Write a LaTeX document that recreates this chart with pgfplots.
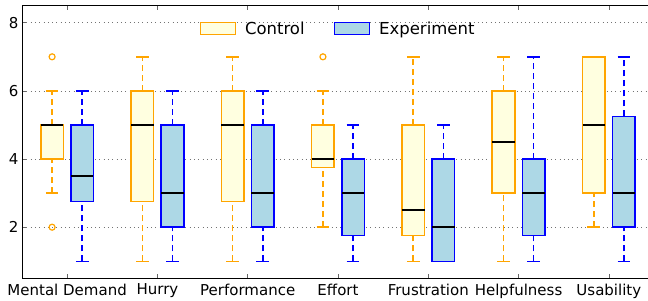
\documentclass[border=0pt]{standalone}
\usepackage{fontspec}
\setmainfont{DejaVu Sans}
\usepackage{pgfplots}
\pgfplotsset{compat=1.18}
\usepgfplotslibrary{statistics}
\definecolor{ctrlfill}{HTML}{FFFFE0}
\definecolor{ctrledge}{HTML}{FFA500}
\definecolor{expfill}{HTML}{ADD8E6}
\definecolor{expedge}{HTML}{0000FF}
\pgfplotsset{
  boxplot/draw direction=y,
  boxplot/draw/lower whisker/.code={%
    \draw[/pgfplots/boxplot/every whisker/.try, dash pattern=on 6pt off 4pt]
      (boxplot box cs:\pgfplotsboxplotvalue{lower whisker},0.5) -- (boxplot box cs:\pgfplotsboxplotvalue{lower quartile},0.5);
    \draw[/pgfplots/boxplot/every whisker/.try]
      (boxplot whisker cs:\pgfplotsboxplotvalue{lower whisker},0) -- (boxplot whisker cs:\pgfplotsboxplotvalue{lower whisker},1);
  },
  boxplot/draw/upper whisker/.code={%
    \draw[/pgfplots/boxplot/every whisker/.try, dash pattern=on 6pt off 4pt]
      (boxplot box cs:\pgfplotsboxplotvalue{upper quartile},0.5) -- (boxplot box cs:\pgfplotsboxplotvalue{upper whisker},0.5);
    \draw[/pgfplots/boxplot/every whisker/.try]
      (boxplot whisker cs:\pgfplotsboxplotvalue{upper whisker},0) -- (boxplot whisker cs:\pgfplotsboxplotvalue{upper whisker},1);
  },
  boxplot/every median/.style={draw=black, line width=2.3pt},
  ctrl/.style={draw=ctrledge, fill=ctrlfill, line width=1.5pt, mark=o, mark size=3pt,
    mark options={solid, draw=ctrledge, fill=none, line width=1.2pt},
    boxplot/draw direction=y,
    boxplot/every box/.style={draw=ctrledge, fill=ctrlfill, line width=1.5pt},
    boxplot/every whisker/.style={draw=ctrledge, fill=none, line width=1.5pt},
    boxplot/box extend=0.25, boxplot/whisker extend=0.14, forget plot},
  expg/.style={draw=expedge, fill=expfill, line width=1.5pt, mark=o, mark size=3pt,
    mark options={solid, draw=expedge, fill=none, line width=1.2pt},
    boxplot/draw direction=y,
    boxplot/every box/.style={draw=expedge, fill=expfill, line width=1.5pt},
    boxplot/every whisker/.style={draw=expedge, fill=none, line width=1.5pt},
    boxplot/box extend=0.25, boxplot/whisker extend=0.14, forget plot},
}
\begin{document}
\begin{tikzpicture}
\useasboundingbox (0,0) rectangle (648pt,300pt);
\begin{axis}[
  at={(22pt,21.7pt)}, anchor=south west,
  scale only axis, width=632pt, height=272.6pt,
  xmin=0.5, xmax=7.5, ymin=0.5, ymax=8.5,
  xtick={1,2,3,4,5,6,7},
  xticklabels={Mental Demand, Hurry, Performance, Effort, Frustration, Helpfulness, Usability},
  ytick={2,4,6,8},
  tick align=inside, major tick length=4pt,
  tick style={black!60, line width=0.6pt},
  axis line style={black, line width=1pt},
  ymajorgrids,
  major grid style={black!55, line width=0.7pt, dash pattern=on 1pt off 3.3pt},
  /pgf/number format/assume math mode=true,
  ticklabel style={font=\fontsize{15}{18}\selectfont},
  xticklabel style={inner sep=0pt, yshift=-5.5pt},
  yticklabel style={inner sep=0pt, xshift=-3.5pt},
  legend image code/.code={\draw[#1] (0pt,-6pt) rectangle (35pt,6pt);},
  legend style={at={(0.5,0.9156)}, anchor=center, draw=none, fill=none,
    font=\fontsize{16.5}{19}\selectfont, legend columns=-1,
    /tikz/every odd column/.append style={column sep=7pt},
    /tikz/every even column/.append style={column sep=27pt}},
  clip=false,
]
\addlegendimage{draw=ctrledge, fill=ctrlfill, line width=1.5pt}
\addlegendentry{Control}
\addlegendimage{draw=expedge, fill=expfill, line width=1.5pt}
\addlegendentry{Experiment}

% Mental Demand
\addplot[ctrl, boxplot prepared={draw position=0.8333, lower whisker=3, lower quartile=4, median=5, upper quartile=5, upper whisker=6}] coordinates {(0,2) (0,7)};
\addplot[expg, boxplot prepared={draw position=1.1667, lower whisker=1, lower quartile=2.75, median=3.5, upper quartile=5, upper whisker=6}] coordinates {};
% Hurry
\addplot[ctrl, boxplot prepared={draw position=1.8333, lower whisker=1, lower quartile=2.75, median=5, upper quartile=6, upper whisker=7}] coordinates {};
\addplot[expg, boxplot prepared={draw position=2.1667, lower whisker=1, lower quartile=2, median=3, upper quartile=5, upper whisker=6}] coordinates {};
% Performance
\addplot[ctrl, boxplot prepared={draw position=2.8333, lower whisker=1, lower quartile=2.75, median=5, upper quartile=6, upper whisker=7}] coordinates {};
\addplot[expg, boxplot prepared={draw position=3.1667, lower whisker=1, lower quartile=2, median=3, upper quartile=5, upper whisker=6}] coordinates {};
% Effort
\addplot[ctrl, boxplot prepared={draw position=3.8333, lower whisker=2, lower quartile=3.75, median=4, upper quartile=5, upper whisker=6}] coordinates {(0,7)};
\addplot[expg, boxplot prepared={draw position=4.1667, lower whisker=1, lower quartile=1.75, median=3, upper quartile=4, upper whisker=5}] coordinates {};
% Frustration
\addplot[ctrl, boxplot prepared={draw position=4.8333, lower whisker=1, lower quartile=1.75, median=2.5, upper quartile=5, upper whisker=7}] coordinates {};
\addplot[expg, boxplot prepared={draw position=5.1667, lower whisker=1, lower quartile=1, median=2, upper quartile=4, upper whisker=5}] coordinates {};
% Helpfulness
\addplot[ctrl, boxplot prepared={draw position=5.8333, lower whisker=1, lower quartile=3, median=4.5, upper quartile=6, upper whisker=7}] coordinates {};
\addplot[expg, boxplot prepared={draw position=6.1667, lower whisker=1, lower quartile=1.75, median=3, upper quartile=4, upper whisker=7}] coordinates {};
% Usability
\addplot[ctrl, boxplot prepared={draw position=6.8333, lower whisker=2, lower quartile=3, median=5, upper quartile=7, upper whisker=7}] coordinates {};
\addplot[expg, boxplot prepared={draw position=7.1667, lower whisker=1, lower quartile=2, median=3, upper quartile=5.25, upper whisker=7}] coordinates {};
\end{axis}
\end{tikzpicture}
\end{document}
